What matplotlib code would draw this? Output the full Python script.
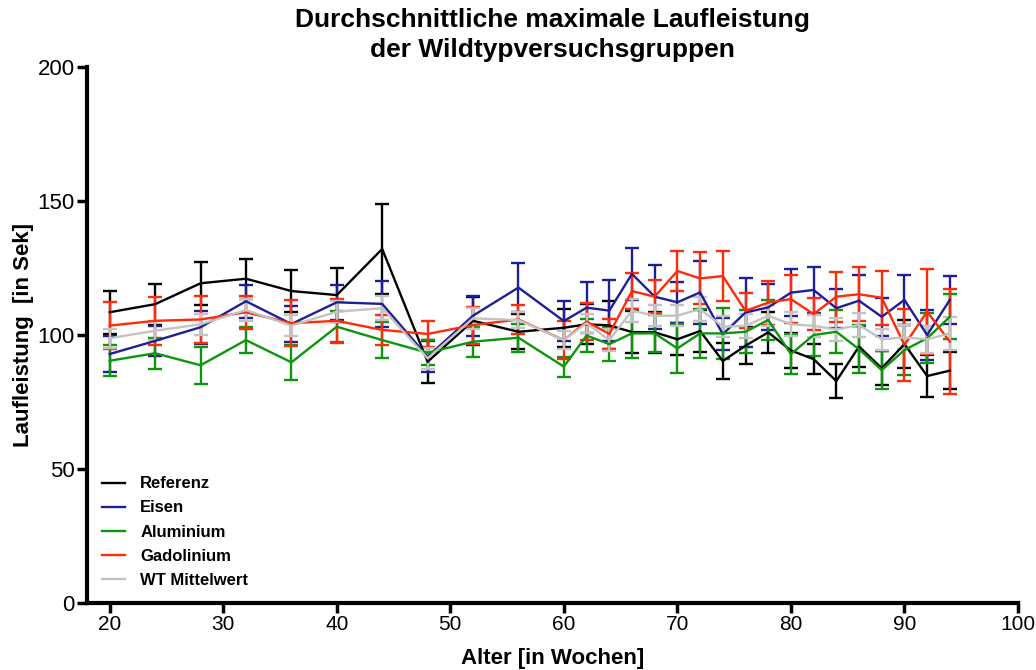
import matplotlib
matplotlib.use("Agg")
import matplotlib.pyplot as plt

# Alter in Wochen
weeks = [20, 24, 28, 32, 36, 40, 44, 48, 52, 56, 60, 62, 64, 66, 68, 70,
         72, 74, 76, 78, 80, 82, 84, 86, 88, 90, 92, 94]

referenz = [108.5, 111.5, 119.3, 121.0, 116.4, 114.9, 132.1, 90.0, 105.3, 101.2, 102.7, 104.0, 103.6, 101.1,
            101.0, 98.4, 101.5, 90.3, 96.0, 101.0, 94.2, 91.0, 82.8, 95.7, 87.6, 96.6, 84.7, 86.7]
referenz_err = [8.0, 7.7, 8.0, 7.5, 8.0, 10.0, 16.8, 8.0, 9.0, 6.5, 7.0, 7.5, 9.0, 8.0,
                7.7, 6.0, 7.8, 6.7, 6.8, 7.6, 6.5, 5.5, 6.3, 7.5, 6.3, 9.0, 8.0, 7.0]

eisen = [92.9, 97.8, 102.9, 112.6, 104.1, 112.2, 111.6, 91.9, 107.2, 117.7, 105.2, 110.2, 109.1, 122.8,
         114.3, 112.2, 115.9, 100.3, 108.4, 110.3, 115.8, 116.8, 110.0, 112.8, 106.8, 113.1, 100.0, 113.1]
eisen_err = [6.7, 5.7, 6.2, 6.2, 6.8, 6.5, 8.7, 5.8, 7.4, 9.0, 7.5, 9.5, 11.4, 9.6,
             12.0, 7.7, 11.8, 6.0, 12.7, 8.6, 8.8, 8.7, 7.3, 9.6, 7.0, 9.3, 9.2, 9.0]

aluminium = [90.4, 93.2, 88.7, 98.1, 89.8, 103.1, 98.1, 93.4, 97.5, 99.0, 88.2, 99.8, 96.6, 100.6,
             100.6, 95.0, 100.6, 100.6, 101.2, 105.6, 92.9, 100.0, 101.2, 94.7, 86.9, 94.4, 98.8, 106.8]
aluminium_err = [5.8, 5.8, 7.0, 5.0, 6.6, 5.8, 6.8, 4.6, 5.6, 5.2, 3.7, 6.0, 6.3, 9.0,
                 7.0, 9.0, 9.0, 9.4, 8.0, 7.6, 7.6, 7.7, 8.0, 9.0, 7.0, 9.5, 9.4, 8.4]

gadolinium = [103.5, 105.3, 105.8, 108.5, 104.4, 105.3, 101.9, 100.4, 103.7, 105.8, 98.1, 105.0, 100.4, 116.4,
              114.3, 123.9, 121.1, 122.0, 109.0, 112.1, 113.4, 107.8, 114.3, 115.2, 113.9, 96.3, 108.7, 97.5]
gadolinium_err = [8.9, 9.0, 8.9, 6.1, 8.5, 8.2, 5.6, 4.8, 6.9, 5.4, 7.2, 6.8, 5.7, 6.7,
                  6.2, 7.6, 9.7, 9.2, 6.5, 8.2, 9.0, 5.9, 9.3, 10.0, 10.0, 13.5, 15.8, 19.7]

wt_mittel = [98.8, 101.6, 104.0, 109.3, 103.5, 108.7, 110.0, 91.3, 106.2, 105.6, 98.1, 104.4, 98.1, 109.1,
             107.2, 107.2, 109.7, 103.1, 103.4, 107.2, 104.0, 103.4, 102.1, 103.7, 98.4, 99.1, 98.4, 100.6]
wt_mittel_err = [3.6, 3.5, 4.0, 4.0, 4.0, 4.0, 4.5, 4.0, 4.0, 3.0, 3.5, 3.5, 4.0, 4.3,
                 4.0, 4.0, 4.5, 4.0, 4.5, 4.0, 4.5, 4.0, 4.3, 4.4, 4.0, 4.5, 5.0, 6.2]

groups = [
    ("Referenz", referenz, referenz_err, "#000000"),
    ("Eisen", eisen, eisen_err, "#1e1e96"),
    ("Aluminium", aluminium, aluminium_err, "#0c960c"),
    ("Gadolinium", gadolinium, gadolinium_err, "#ff2a0a"),
    ("WT Mittelwert", wt_mittel, wt_mittel_err, "#c3c3c3"),
]

plt.rcParams["font.family"] = ["Liberation Sans", "DejaVu Sans"]

fig = plt.figure(figsize=(10.36, 6.7), dpi=100)
ax = fig.add_axes([0.084, 0.1, 0.8986, 0.8])

for name, values, err, color in groups:
    ax.errorbar(weeks, values, yerr=err, color=color, linewidth=1.7,
                elinewidth=1.7, capsize=5, capthick=1.7, label=name)

ax.set_xlim(18, 100)
ax.set_ylim(0, 200)
ax.set_xticks(range(20, 101, 10))
ax.set_yticks([0, 50, 100, 150, 200])

for side in ["top", "right"]:
    ax.spines[side].set_visible(False)
for side in ["left", "bottom"]:
    ax.spines[side].set_linewidth(3)
ax.tick_params(axis="both", width=2.5, length=7, direction="out")
ax.tick_params(axis="y", labelsize=16, pad=2)
ax.tick_params(axis="x", labelsize=15, pad=2)

ax.set_ylabel("Laufleistung  [in Sek]", fontsize=16, fontweight="bold", labelpad=2)
ax.set_xlabel("Alter [in Wochen]", fontsize=16, fontweight="bold", labelpad=10)
ax.set_title("Durchschnittliche maximale Laufleistung\nder Wildtypversuchsgruppen",
             fontsize=19, fontweight="bold", pad=7, linespacing=1.35)

handles, labels = ax.get_legend_handles_labels()
handles = [h[0] for h in handles]
leg = ax.legend(handles, labels, loc="lower left", frameon=False, fontsize=12,
                handlelength=1.4, handletextpad=0.9, labelspacing=0.55,
                bbox_to_anchor=(0.0, 0.0))
for t in leg.get_texts():
    t.set_fontweight("bold")

fig.savefig("out.png", dpi=100)
